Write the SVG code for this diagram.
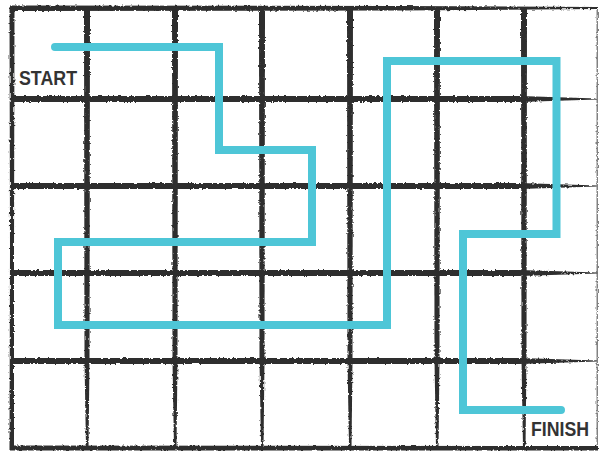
<svg xmlns="http://www.w3.org/2000/svg" width="600" height="451" viewBox="0 0 600 451">
  <defs>
    <filter id="rough" x="-5%" y="-5%" width="110%" height="110%">
      <feTurbulence type="fractalNoise" baseFrequency="0.4" numOctaves="2" seed="3" result="n"/>
      <feDisplacementMap in="SourceGraphic" in2="n" scale="3" xChannelSelector="R" yChannelSelector="G"/>
    </filter>
  </defs>
  <style>
    .ink { fill: #2e2e2e; }
    .path { fill: none; stroke: #4ec6d7; stroke-width: 8; stroke-linejoin: miter; stroke-linecap: round; }
    .lbl { font-family: "Liberation Sans", Arial, sans-serif; font-weight: bold; font-size: 21px; fill: #333333; }
  </style>
  <rect width="600" height="451" fill="#ffffff"/>
  <g id="grid" filter="url(#rough)">
    <!-- border -->
    <polygon class="ink" points="10,5.5 400,6 598,7 598,9 400,10.5 10,11"/>
    <polygon class="ink" points="9.5,6 14.5,6 14,250 14,450 9.5,450 10,250"/>
    <polygon class="ink" points="10,445.5 598,446 598,450.5 10,450.5"/>
    <polygon class="ink" points="596.5,7 598,7 598,450 596.5,450" opacity="0.6"/>
    <!-- vertical lines -->
    <g class="ink">
      <polygon points="84,8 90,8 89.5,360 88.5,448 86,448 84.5,360"/>
      <polygon points="172,8 178,8 177.5,360 176.5,448 174,448 172.5,360"/>
      <polygon points="259,8 265,8 264.5,360 263.5,448 261,448 259.5,360"/>
      <polygon points="347,8 353,8 352.5,360 351.5,448 349,448 347.5,360"/>
      <polygon points="434,8 440,8 439.5,360 438.5,448 436,448 434.5,360"/>
      <polygon points="521,8 527,8 526.5,360 525.5,448 523,448 521.5,360"/>
    </g>
    <!-- horizontal lines -->
    <g class="ink">
      <polygon points="12,96 520,96 597,98.5 597,99.5 520,102 12,102"/>
      <polygon points="12,183 520,183 597,185.5 597,186.5 520,189 12,189"/>
      <polygon points="12,270 520,270 597,272.5 597,273.5 520,276 12,276"/>
      <polygon points="12,358 520,358 597,360.5 597,361.5 520,364 12,364"/>
    </g>
  </g>
  <g id="connectors">
    <path class="path" d="M55,47 H219 V150 H312 V242 H58 V325 H387 V61 H556.5 V234 H463 V410 H561"/>
  </g>
  <g id="start">
    <text class="lbl" x="19" y="85" textLength="58" lengthAdjust="spacingAndGlyphs">START</text>
  </g>
  <g id="finish">
    <text class="lbl" x="531" y="436" textLength="58" lengthAdjust="spacingAndGlyphs">FINISH</text>
  </g>
</svg>
